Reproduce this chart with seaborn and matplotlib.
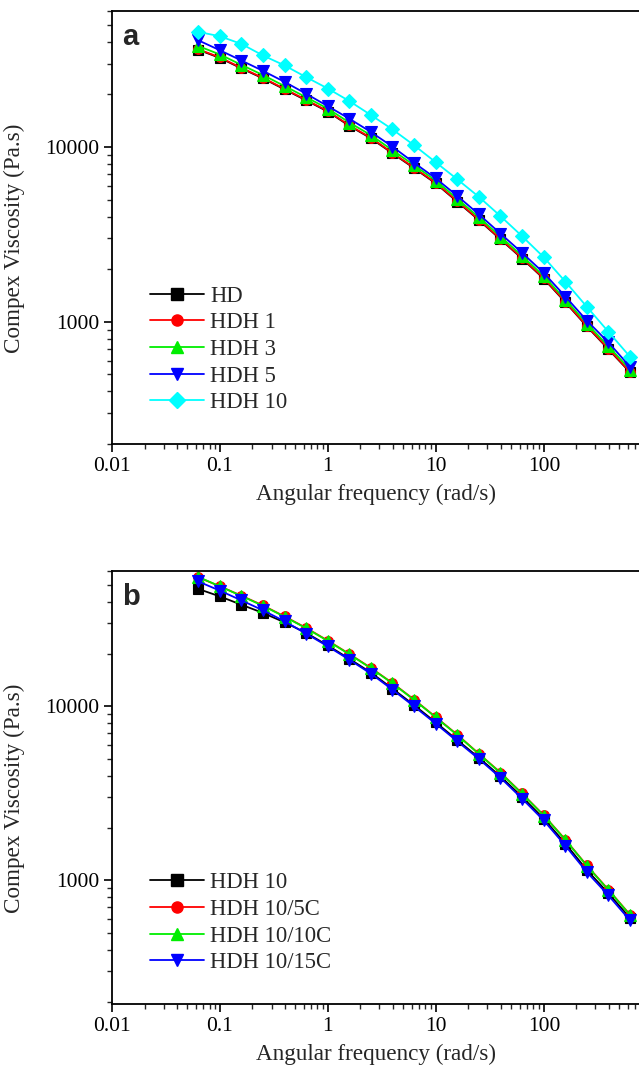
import numpy as np
import pandas as pd
import matplotlib
matplotlib.use("Agg")
import matplotlib.pyplot as plt
import seaborn as sns
from matplotlib.ticker import LogLocator, FixedLocator, NullFormatter, FixedFormatter
from matplotlib.lines import Line2D

# ---------------- data ----------------
freq = [0.0628, 0.0996, 0.158, 0.250, 0.396, 0.628, 0.996, 1.58, 2.50, 3.96,
        6.28, 9.96, 15.8, 25.0, 39.6, 62.8, 99.6, 158, 250, 396, 628]

# panel a (log10 of complex viscosity, Pa.s)
a_HD    = [4.557, 4.510, 4.450, 4.393, 4.330, 4.267, 4.203, 4.121, 4.050, 3.964,
           3.879, 3.792, 3.687, 3.582, 3.472, 3.362, 3.247, 3.112, 2.974, 2.843, 2.711]
a_HDH1  = [4.560, 4.513, 4.453, 4.396, 4.333, 4.270, 4.206, 4.124, 4.053, 3.967,
           3.882, 3.795, 3.690, 3.585, 3.475, 3.365, 3.250, 3.115, 2.977, 2.846, 2.714]
a_HDH3  = [4.578, 4.530, 4.470, 4.412, 4.349, 4.285, 4.220, 4.140, 4.068, 3.982,
           3.896, 3.808, 3.703, 3.598, 3.488, 3.377, 3.262, 3.127, 2.990, 2.860, 2.727]
a_HDH5  = [4.611, 4.554, 4.495, 4.436, 4.373, 4.305, 4.234, 4.162, 4.086, 4.002,
           3.910, 3.821, 3.720, 3.615, 3.505, 3.395, 3.280, 3.145, 3.007, 2.882, 2.743]
a_HDH10 = [4.659, 4.634, 4.590, 4.524, 4.467, 4.400, 4.335, 4.263, 4.183, 4.101,
           4.010, 3.913, 3.815, 3.715, 3.605, 3.490, 3.370, 3.230, 3.086, 2.943, 2.800]

# panel b
b_HDH10    = [4.675, 4.632, 4.584, 4.537, 4.483, 4.422, 4.350, 4.273, 4.194, 4.102,
              4.007, 3.908, 3.806, 3.705, 3.598, 3.480, 3.355, 3.212, 3.060, 2.926, 2.784]
b_HDH10_5C = [4.742, 4.690, 4.636, 4.580, 4.517, 4.451, 4.378, 4.301, 4.221, 4.134,
              4.039, 3.939, 3.837, 3.728, 3.620, 3.500, 3.375, 3.235, 3.086, 2.947, 2.803]
b_HDH10_10C= [4.744, 4.690, 4.634, 4.578, 4.515, 4.449, 4.376, 4.299, 4.219, 4.132,
              4.037, 3.937, 3.835, 3.726, 3.618, 3.498, 3.373, 3.233, 3.084, 2.945, 2.801]
b_HDH10_15C= [4.718, 4.665, 4.609, 4.552, 4.489, 4.418, 4.345, 4.268, 4.188, 4.096,
              4.000, 3.901, 3.799, 3.698, 3.590, 3.470, 3.345, 3.200, 3.048, 2.914, 2.770]

labels_a = ["HD", "HDH 1", "HDH 3", "HDH 5", "HDH 10"]
labels_b = ["HDH 10", "HDH 10/5C", "HDH 10/10C", "HDH 10/15C"]
x_ticks = [0.01, 0.1, 1, 10, 100]
x_ticklabels = ["0.01", "0.1", "1", "10", "100"]
y_ticks = [1000, 10000]
y_ticklabels = ["1000", "10000"]

# ---------------- styling ----------------
sns.set_style("ticks")
plt.rcParams['font.family'] = ['Liberation Serif', 'DejaVu Serif']

colors_a = ["#000000", "#FF0000", "#00EE00", "#0000FF", "#00FFFF"]
markers_a = ["s", "o", "^", "v", "D"]
colors_b = ["#000000", "#FF0000", "#00EE00", "#0000FF"]
markers_b = ["s", "o", "^", "v"]

fig = plt.figure(figsize=(6.39, 10.72), dpi=100)
ax_a = fig.add_axes([0.1753, 0.5858, 1.0 - 0.1753, 0.9897 - 0.5858])
ax_b = fig.add_axes([0.1753, 0.0634, 1.0 - 0.1753, 0.4674 - 0.0634])


def draw(ax, series, labels, colors, markers, letter, ylim, leg_y):
    for vals, lab, c, m in zip(series, labels, colors, markers):
        df = pd.DataFrame({"freq": freq, "eta": np.power(10.0, np.array(vals))})
        ms = 8 if m in ("^", "v") else 7
        sns.lineplot(data=df, x="freq", y="eta", ax=ax, color=c, marker=m,
                     markersize=ms, markeredgecolor=c, markeredgewidth=0.8,
                     linewidth=1.3, label=lab, legend=False, sort=False,
                     estimator=None)
    ax.set_xscale("log")
    ax.set_yscale("log")
    ax.set_xlim(0.01, 760)
    ax.set_ylim(*ylim)
    ax.xaxis.set_major_locator(FixedLocator(x_ticks))
    ax.xaxis.set_major_formatter(FixedFormatter(x_ticklabels))
    ax.xaxis.set_minor_locator(LogLocator(base=10, subs=np.arange(2, 10)))
    ax.xaxis.set_minor_formatter(NullFormatter())
    ax.yaxis.set_major_locator(FixedLocator(y_ticks))
    ax.yaxis.set_major_formatter(FixedFormatter(y_ticklabels))
    ax.yaxis.set_minor_locator(LogLocator(base=10, subs=np.arange(2, 10)))
    ax.yaxis.set_minor_formatter(NullFormatter())
    ax.tick_params(which="major", direction="out", length=6, width=1.2,
                   labelsize=15.5, color="black", labelcolor="black", pad=3)
    ax.tick_params(which="minor", direction="out", length=3.5, width=1.0)
    ax.tick_params(axis="x", which="both", top=False)
    ax.tick_params(axis="y", which="both", right=False)
    for s in ["left", "bottom", "top"]:
        ax.spines[s].set_visible(True)
        ax.spines[s].set_linewidth(1.3)
        ax.spines[s].set_color("black")
    ax.spines["right"].set_visible(False)
    ax.set_xlabel("Angular frequency (rad/s)", fontsize=16.7, labelpad=6)
    ax.set_ylabel("Compex Viscosity (Pa.s)", fontsize=16.7)
    ax.yaxis.set_label_coords(-0.165, 0.475)
    ax.grid(False)
    ax.text(0.019, 0.972, letter, transform=ax.transAxes, fontsize=21,
            fontweight="bold", family="Liberation Sans", va="top", ha="left")
    handles = [Line2D([0], [0], color=c, marker=m, linewidth=1.3,
                      markersize=8, markeredgecolor=c) for c, m in zip(colors, markers)]
    ax.legend(handles, labels, loc="lower left", bbox_to_anchor=(0.055, leg_y),
              frameon=False, fontsize=16.3, handlelength=2.4,
              handletextpad=0.25, labelspacing=0.25, borderaxespad=0)


draw(ax_a, [a_HD, a_HDH1, a_HDH3, a_HDH5, a_HDH10], labels_a, colors_a, markers_a,
     "a", (200, 60000), 0.05)
draw(ax_b, [b_HDH10, b_HDH10_5C, b_HDH10_10C, b_HDH10_15C], labels_b, colors_b,
     markers_b, "b", (195, 60000), 0.05)

fig.savefig("out.png", dpi=100)
